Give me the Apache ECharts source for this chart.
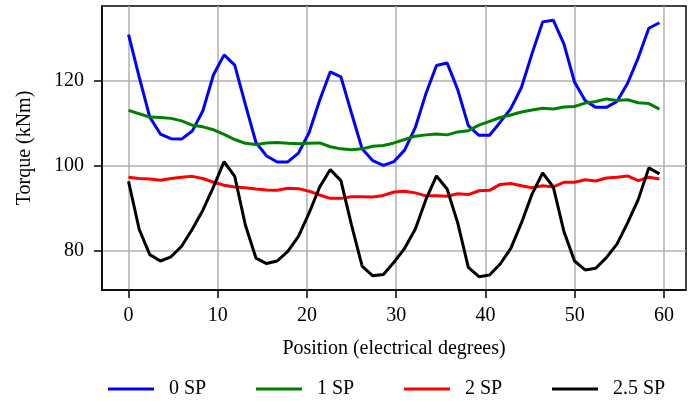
<!DOCTYPE html>
<html>
<head>
<meta charset="utf-8">
<script src="https://cdn.jsdelivr.net/npm/echarts@6/dist/echarts.min.js"></script>
<style>html,body{margin:0;padding:0;background:#fff}#c{width:699px;height:401px}</style>
</head>
<body>
<div id="c"></div>
<script>
const position = [0, 1.19, 2.38, 3.57, 4.76, 5.95, 7.14, 8.33, 9.52, 10.71, 11.9, 13.09, 14.28, 15.47, 16.66, 17.85, 19.04, 20.23, 21.42, 22.61, 23.8, 24.99, 26.18, 27.37, 28.56, 29.75, 30.94, 32.13, 33.32, 34.51, 35.7, 36.89, 38.08, 39.27, 40.46, 41.65, 42.84, 44.03, 45.22, 46.41, 47.6, 48.79, 49.98, 51.17, 52.36, 53.55, 54.74, 55.93, 57.12, 58.31, 59.5];
const sp0 = [131, 121, 111.5, 107.5, 106.4, 106.3, 108.2, 113, 121.5, 126.2, 123.8, 114.5, 105.5, 102.3, 100.9, 100.9, 103, 107.8, 115.5, 122.2, 121, 112.4, 104, 101.2, 100.1, 101, 103.7, 109, 117, 123.7, 124.3, 118, 109.5, 107.2, 107.2, 110.3, 113.5, 118.5, 126.5, 134, 134.4, 128.8, 119.8, 115.4, 113.8, 113.8, 115.2, 119.5, 125.5, 132.5, 133.8];
const sp1 = [113.1, 112.3, 111.5, 111.4, 111.2, 110.6, 109.6, 109.2, 108.5, 107.4, 106.2, 105.3, 105.0, 105.4, 105.5, 105.3, 105.2, 105.3, 105.4, 104.5, 104.0, 103.8, 104.0, 104.6, 104.8, 105.4, 106.2, 107.0, 107.3, 107.5, 107.3, 108.0, 108.3, 109.6, 110.5, 111.4, 112.0, 112.7, 113.2, 113.6, 113.4, 113.9, 114.0, 114.8, 115.2, 115.8, 115.4, 115.6, 114.9, 114.7, 113.4];
const sp2 = [97.3, 97.0, 96.9, 96.6, 97.0, 97.3, 97.5, 97.0, 96.1, 95.4, 95.0, 94.8, 94.5, 94.3, 94.2, 94.7, 94.6, 94.0, 93.1, 92.3, 92.3, 92.7, 92.7, 92.6, 93.0, 93.8, 94.0, 93.6, 92.9, 92.9, 92.8, 93.4, 93.2, 94.1, 94.2, 95.6, 95.8, 95.3, 94.8, 95.3, 95.0, 96.1, 96.1, 96.7, 96.4, 97.1, 97.3, 97.6, 96.5, 97.3, 96.9];
const sp25 = [96.3, 85, 79.0, 77.5, 78.5, 81.0, 85.0, 89.5, 95.0, 101.0, 97.5, 86.0, 78.2, 76.9, 77.5, 79.8, 83.3, 88.8, 95.0, 99.1, 96.5, 86.0, 76.3, 74.0, 74.3, 77.2, 80.5, 85.0, 92.0, 97.6, 94.5, 86.5, 76.0, 73.8, 74.2, 76.8, 80.5, 86.5, 93.3, 98.3, 95.0, 84.5, 77.5, 75.4, 75.8, 78.3, 81.5, 86.5, 92.0, 99.5, 98.1];
const seriesNames = ['0 SP', '1 SP', '2 SP', '2.5 SP'];
const seriesColors = ['#0000ff', '#008000', '#ff0000', '#000000'];
const xTicks = [0, 10, 20, 30, 40, 50, 60];
const yTicks = [80, 100, 120];

const FONT = 'Liberation Serif';
const allY = [sp0, sp1, sp2, sp25];
const chart = echarts.init(document.getElementById('c'), null, {renderer: 'canvas'});
const legendLefts = [108, 256, 404, 552];
chart.setOption({
  animation: false,
  backgroundColor: '#fff',
  textStyle: {fontFamily: FONT},
  grid: {left: 102, right: 13, top: 6, bottom: 111, show: true, borderColor: '#000', borderWidth: 1.5, backgroundColor: 'transparent'},
  legend: seriesNames.map((n, i) => ({
    data: [n], left: legendLefts[i], top: 379, padding: 0,
    itemWidth: 46, itemHeight: 16, icon: 'path://M0,6.5 L46,6.5 L46,9.5 L0,9.5 Z',
    textStyle: {fontFamily: FONT, fontSize: 20, color: '#000', padding: [0, 0, 0, 10]}
  })),
  xAxis: {
    type: 'value', min: -2.975, max: 62.475,
    name: 'Position (electrical degrees)', nameLocation: 'middle', nameGap: 49,
    nameTextStyle: {fontFamily: FONT, fontSize: 20, color: '#000'},
    axisLine: {show: true, onZero: false, lineStyle: {color: '#000', width: 1.5}},
    axisTick: {show: true, length: 8, lineStyle: {color: '#000', width: 1.5}, customValues: xTicks},
    axisLabel: {customValues: xTicks, fontFamily: FONT, fontSize: 20, color: '#000', margin: 16},
    splitLine: {show: true, lineStyle: {color: '#b0b0b0', width: 1.5}}
  },
  yAxis: {
    type: 'value', min: 70.65, max: 137.75,
    name: 'Torque (kNm)', nameLocation: 'middle', nameGap: 67, nameRotate: 90,
    nameTextStyle: {fontFamily: FONT, fontSize: 20, color: '#000'},
    axisLine: {show: true, onZero: false, lineStyle: {color: '#000', width: 1.5}},
    axisTick: {show: true, length: 8, lineStyle: {color: '#000', width: 1.5}, customValues: yTicks},
    axisLabel: {customValues: yTicks, fontFamily: FONT, fontSize: 20, color: '#000', margin: 18},
    splitLine: {show: true, lineStyle: {color: '#b0b0b0', width: 1.5}}
  },
  series: seriesNames.map((n, i) => ({
    name: n, type: 'line', showSymbol: false, symbol: 'none',
    lineStyle: {color: seriesColors[i], width: 3},
    itemStyle: {color: seriesColors[i]},
    z: 2 + i,
    data: position.map((x, k) => [x, allY[i][k]])
  }))
});
</script>
</body>
</html>
